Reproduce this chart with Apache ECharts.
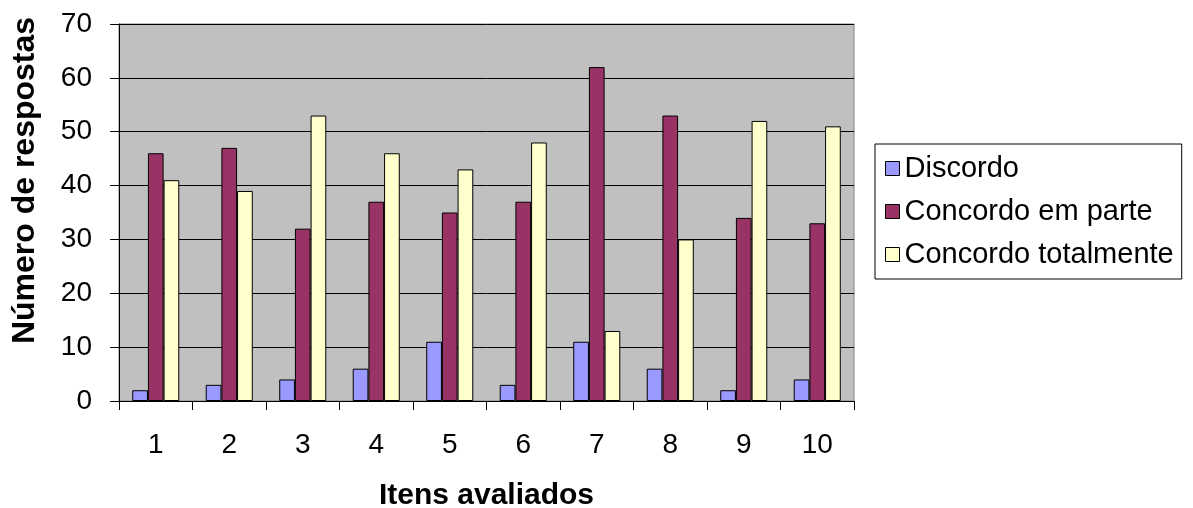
<!DOCTYPE html>
<html>
<head>
<meta charset="utf-8">
<script src="https://cdn.jsdelivr.net/npm/echarts@6/dist/echarts.min.js"></script>
<style>
html,body{margin:0;padding:0;background:#fff;}
#chart{width:1193px;height:508px;}
</style>
</head>
<body>
<div id="chart"></div>
<script>
const categories = ['1','2','3','4','5','6','7','8','9','10'];
const seriesNames = ['Discordo','Concordo em parte','Concordo totalmente'];
const discordo = [2,3,4,6,11,3,11,6,2,4];
const concordoEmParte = [46,47,32,37,35,37,62,53,34,33];
const concordoTotalmente = [41,39,53,46,43,48,13,30,52,51];
const yAxisName = 'Número de respostas';
const xAxisName = 'Itens avaliados';

const colors = ['#9999FF','#993366','#FFFFCC'];
const font = 'Liberation Sans, Arial, sans-serif';

const chart = echarts.init(document.getElementById('chart'));
const barStyle = (c) => ({color: c, borderColor: '#000', borderWidth: 1});

chart.setOption({
  animation: false,
  backgroundColor: '#fff',
  textStyle: {fontFamily: font},
  grid: {
    left: 119, right: 339, top: 24, bottom: 107,
    containLabel: false,
    outerBoundsMode: 'none',
    show: true, backgroundColor: '#C0C0C0', borderColor: '#808080', borderWidth: 1
  },
  legend: {
    orient: 'vertical',
    left: 875, top: 144,
    backgroundColor: '#fff',
    borderColor: '#000', borderWidth: 1,
    padding: [10, 8, 10, 10],
    itemGap: 14,
    itemWidth: 14, itemHeight: 14,
    itemTextGap: 17,
    icon: 'rect',
    itemStyle: {borderColor: '#000', borderWidth: 1},
    textStyle: {fontSize: 29, color: '#000', fontFamily: font},
    data: seriesNames
  },
  xAxis: {
    type: 'category',
    data: categories,
    name: xAxisName,
    nameLocation: 'middle',
    nameGap: 80,
    nameTextStyle: {fontSize: 30, fontWeight: 'bold', color: '#000', fontFamily: font},
    axisLine: {lineStyle: {color: '#000', width: 1}},
    axisTick: {show: true, length: 9, lineStyle: {color: '#000'}},
    axisLabel: {fontSize: 28, color: '#000', margin: 30, fontFamily: font},
    splitLine: {show: false}
  },
  yAxis: {
    type: 'value',
    min: 0, max: 70, interval: 10,
    name: yAxisName,
    nameLocation: 'middle',
    nameGap: 78,
    nameTextStyle: {fontSize: 32, fontWeight: 'bold', color: '#000', fontFamily: font, padding: [0, 0, 0, 64]},
    axisLine: {show: true, lineStyle: {color: '#000', width: 1}},
    axisTick: {show: true, length: 9, lineStyle: {color: '#000'}},
    axisLabel: {fontSize: 28, color: '#000', margin: 27, fontFamily: font},
    splitLine: {show: true, lineStyle: {color: '#000', width: 1}}
  },
  series: [
    {name: seriesNames[0], type: 'bar', data: discordo, itemStyle: barStyle(colors[0]), barGap: '0%', barCategoryGap: '36%'},
    {name: seriesNames[1], type: 'bar', data: concordoEmParte, itemStyle: barStyle(colors[1]), barGap: '0%', barCategoryGap: '36%'},
    {name: seriesNames[2], type: 'bar', data: concordoTotalmente, itemStyle: barStyle(colors[2]), barGap: '0%', barCategoryGap: '36%'}
  ]
});
</script>
</body>
</html>
